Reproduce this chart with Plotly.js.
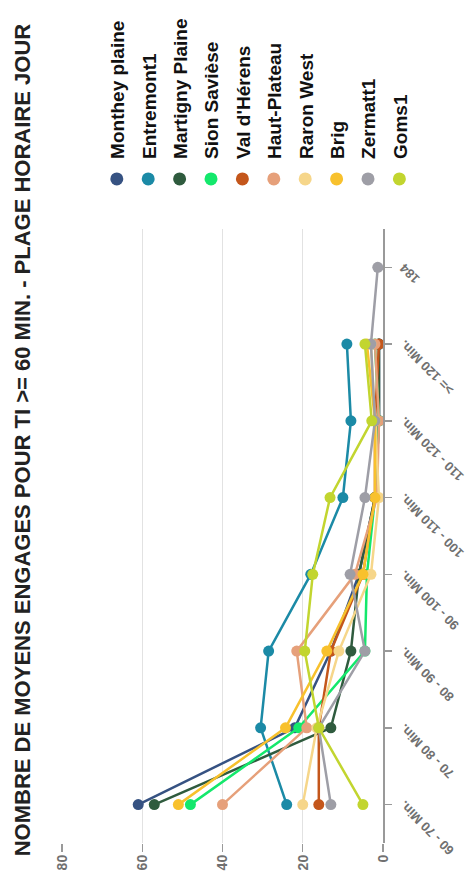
<!DOCTYPE html>
<html>
<head>
<meta charset="utf-8">
<script src="https://cdn.plot.ly/plotly-3.0.1.min.js"></script>
<style>
html,body{margin:0;padding:0;width:467px;height:889px;overflow:hidden;background:#fff;}
#wrap{position:absolute;left:0;top:0;width:889px;height:467px;transform-origin:0 0;transform:translate(0,889px) rotate(-90deg);}
#chart{width:889px;height:467px;}
</style>
</head>
<body>
<div id="wrap"><div id="chart"></div></div>
<script>
// ---- data ----
const categories = ["60 - 70 Min.", "70 - 80 Min.", "80 - 90 Min.", "90 - 100 Min.", "100 - 110 Min.", "110 - 120 Min.", ">= 120 Min.", "184"];
const seriesNames = ["Monthey plaine", "Entremont1", "Martigny Plaine", "Sion Savièse", "Val d'Hérens", "Haut-Plateau", "Raron West", "Brig", "Zermatt1", "Goms1"];
const montheyPlaine  = [61, 22, 13, 6, 2, 1, 1, null];
const entremont1     = [24, 30.5, 28.5, 18, 10, 8, 9, null];
const martignyPlaine = [57, 13, 8, 6, 2, 1, 1, null];
const sionSaviese    = [48, 21, 4.5, 4, 2, 1, 2, null];
const valDHerens     = [16, 16, 13, 5, 2, 2, 1, null];
const hautPlateau    = [40, 19, 21.5, 7, 1.5, 1, 2, null];
const raronWest      = [20, 16.5, 11, 3, 1, 2, 3, null];
const brig           = [51, 24.3, 14, 5, 2, 2, 4, null];
const zermatt1       = [13, 16, 4.5, 8.2, 4.5, 2, 3, 1.3];
const goms1          = [5, 16, 19.5, 17.5, 13.2, 2.8, 4.5, null];
const seriesValues = [montheyPlaine, entremont1, martignyPlaine, sionSaviese, valDHerens, hautPlateau, raronWest, brig, zermatt1, goms1];
const yTickValues = [0, 20, 40, 60, 80];

// ---- styles ----
const colors = ["#365282", "#1b8aa6", "#2f5b3e", "#14e86c", "#c4561b", "#e6a07a", "#f6d68a", "#f8c12d", "#9e9ea6", "#c2d52f"];
const font = "'Liberation Sans', Arial, sans-serif";

const traces = [];
seriesValues.forEach((vals, i) => {
  traces.push({
    type: "scatter", mode: "lines+markers",
    x: categories, y: vals, name: seriesNames[i],
    line: {color: colors[i], width: 2.5},
    marker: {color: colors[i], size: 11},
    showlegend: false, connectgaps: false
  });
});
seriesNames.forEach((n, i) => {
  traces.push({
    type: "scatter", mode: "markers",
    x: [null], y: [null], name: n, legendgroup: "g" + i,
    marker: {color: colors[i], size: 13},
    showlegend: true
  });
});

const layout = {
  width: 889, height: 467,
  paper_bgcolor: "#fff", plot_bgcolor: "#fff",
  margin: {l: 46, r: 229, t: 62, b: 84, autoexpand: false},
  title: {text: "NOMBRE DE MOYENS ENGAGES POUR TI >= 60 MIN. - PLAGE HORAIRE JOUR",
          x: 0.505, xref: "container", xanchor: "center",
          y: 0.953, yref: "container", yanchor: "middle",
          font: {family: font, size: 22, color: "#222", weight: "bold"}},
  xaxis: {
    type: "category", categoryarray: categories, range: [-0.5, 7.5],
    showgrid: false, showline: true, linecolor: "#999", linewidth: 1.5,
    ticks: "outside", ticklen: 7, tickcolor: "#999", tickwidth: 1.5,
    tickangle: -45, automargin: false,
    tickfont: {family: font, size: 13, color: "#707070", weight: "bold"}
  },
  yaxis: {
    range: [0, 80], tickvals: yTickValues, showgrid: true, gridcolor: "#e2e2e2", gridwidth: 1,
    zeroline: false, showline: false,
    ticks: "outside", ticklen: 8, tickcolor: "#999", tickwidth: 1.2, automargin: false,
    tickfont: {family: font, size: 14, color: "#707070", weight: "bold"}
  },
  showlegend: true,
  legend: {
    x: 1.049, xanchor: "left", y: 0.888, yanchor: "top",
    orientation: "v", tracegroupgap: 3.7, bgcolor: "rgba(0,0,0,0)",
    font: {family: font, size: 19, color: "#111", weight: "bold"},
    itemclick: false
  }
};
Plotly.newPlot("chart", traces, layout, {displayModeBar: false, staticPlot: true});
</script>
</body>
</html>
